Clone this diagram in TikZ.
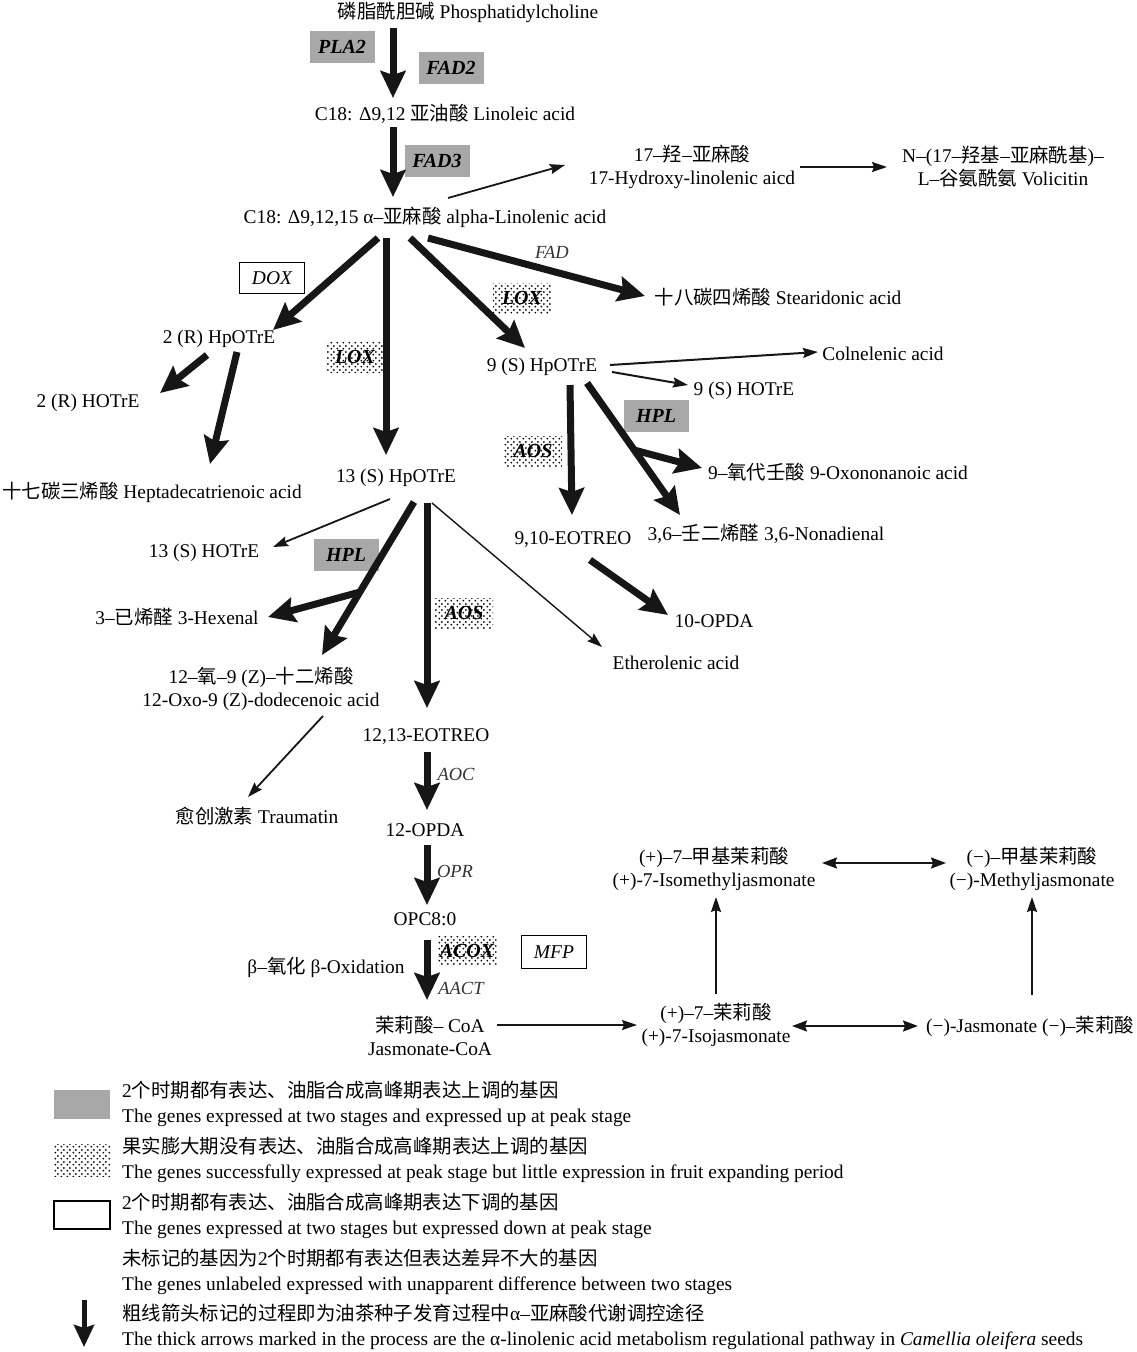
\documentclass[tikz,border=0pt]{standalone}
\usepackage{fontspec}
\setmainfont{Liberation Serif}
\newfontfamily\cjk{Noto Sans CJK SC}
\usetikzlibrary{arrows.meta,patterns.meta}
\newcommand\zh[1]{{\cjk #1}}
\definecolor{boxgray}{RGB}{168,168,168}
\definecolor{arrblack}{RGB}{22,22,22}
\tikzdeclarepattern{
  name=sdots,
  type=uncolored,
  bounding box={(0pt,0pt) and (6pt,6pt)},
  tile size={(6pt,6pt)},
  code={
    \fill (1.5pt,1.5pt) circle (1.1pt);
    \fill (4.5pt,4.5pt) circle (1.1pt);
  }
}
\begin{document}
\begin{tikzpicture}[x=1pt,y=-1pt,
  every node/.style={font=\fontsize{19.4}{23}\selectfont, inner sep=1pt},
  txt/.style={align=center},
  lbl/.style={font=\fontsize{18.5}{22}\selectfont\itshape, text=black!80},
  genegray/.style={fill=boxgray, minimum width=65pt, minimum height=32pt, font=\fontsize{20}{22}\selectfont\bfseries\itshape},
  genedot/.style={pattern=sdots, pattern color=black, minimum width=58pt, minimum height=30pt, font=\fontsize{20}{22}\selectfont\bfseries\itshape},
  genewhite/.style={draw, line width=1.2pt, minimum width=65pt, minimum height=31pt, font=\fontsize{19.5}{22}\selectfont\itshape},
  bigarr/.style={draw=arrblack, line width=7pt, -{Stealth[length=27pt,width=25pt,inset=4pt]}},
  smallarr/.style={draw=arrblack, line width=1.8pt, -{Stealth[length=15pt,width=10pt,inset=2pt]}},
  medarr/.style={draw=arrblack, line width=2pt, -{Stealth[length=15pt,width=10pt,inset=2pt]}},
  thinarr/.style={draw=arrblack, line width=1.4pt, -{Stealth[length=15pt,width=10pt,inset=2pt]}},
  dblarr/.style={draw=arrblack, line width=2pt, {Stealth[length=15pt,width=11pt,inset=2pt]}-{Stealth[length=15pt,width=11pt,inset=2pt]}}
]
\useasboundingbox (0,0) rectangle (1137,1352);

% ---- compound nodes ----
\node (pc) at (468,12) {\zh{磷脂酰胆碱} Phosphatidylcholine};
\node (la) at (445,114) {C18: Δ9,12 \zh{亚油酸} Linoleic acid};
\node (ala) at (425,217) {C18: Δ9,12,15 α–\zh{亚麻酸} alpha-Linolenic acid};
\node[txt] (hla) at (692,167) {17–\zh{羟}–\zh{亚麻酸}\\17-Hydroxy-linolenic aicd};
\node[txt] (vol) at (1003,167) {N–(17–\zh{羟基}–\zh{亚麻酰基})–\\L–\zh{谷氨酰氨} Volicitin};
\node (sa) at (778,297) {\zh{十八碳四烯酸} Stearidonic acid};
\node (hpR) at (219,339) {2 (R) HpOTrE};
\node (hotR) at (88,403) {2 (R) HOTrE};
\node (hep) at (152,492) {\zh{十七碳三烯酸} Heptadecatrienoic acid};
\node (hp9) at (542,367) {9 (S) HpOTrE};
\node (coln) at (883,354) {Colnelenic acid};
\node (hot9) at (744,391) {9 (S) HOTrE};
\node (oxo9) at (838,472) {9–\zh{氧代壬酸} 9-Oxononanoic acid};
\node (non) at (766,534) {3,6–\zh{壬二烯醛} 3,6-Nonadienal};
\node (eo910) at (573,540) {9,10-EOTREO};
\node (opda10) at (714,621) {10-OPDA};
\node (hp13) at (396,478) {13 (S) HpOTrE};
\node (hot13) at (204,553) {13 (S) HOTrE};
\node (hex) at (177,617) {3–\zh{已烯醛} 3-Hexenal};
\node[txt] (dodec) at (261,689) {12–\zh{氧}–9 (Z)–\zh{十二烯酸}\\12-Oxo-9 (Z)-dodecenoic acid};
\node (eth) at (676,663) {Etherolenic acid};
\node (eo1213) at (426,737) {12,13-EOTREO};
\node (trau) at (257,816) {\zh{愈创激素} Traumatin};
\node (opda12) at (425,830) {12-OPDA};
\node (opc) at (425,919) {OPC8:0};
\node[txt] (jcoa) at (430,1036) {\zh{茉莉酸}– CoA\\Jasmonate-CoA};
\node[txt] (iso) at (716,1025) {(+)–7–\zh{茉莉酸}\\(+)-7-Isojasmonate};
\node (jas) at (1030,1026) {(−)-Jasmonate (−)–\zh{茉莉酸}};
\node[txt] (isomj) at (714,869) {(+)–7–\zh{甲基茉莉酸}\\(+)-7-Isomethyljasmonate};
\node[txt] (mj) at (1032,869) {(−)–\zh{甲基茉莉酸}\\(−)-Methyljasmonate};

% ---- enzyme labels ----
\node[lbl] (fad) at (552,252) {FAD};
\node[lbl] (aoc) at (456,774) {AOC};
\node[lbl] (opr) at (455,871) {OPR};
\node[lbl] (aact) at (461,988) {AACT};
\node (boxi) at (326,967) {β–\zh{氧化} β-Oxidation};

\node[genegray] (pla2) at (342,47) {PLA2};
\node[genegray] (fad2) at (451,68) {FAD2};
\node[genegray] (fad3) at (437,161) {FAD3};
\node[genewhite] (dox) at (272,278) {DOX};
\node[genedot] (lox1) at (522,298) {LOX};
\node[genedot] (lox2) at (355,357) {LOX};
\node[genegray] (hpl1) at (656,416) {HPL};
\node[genedot] (aos1) at (533,451) {AOS};
\node[genegray] (hpl2) at (346,555) {HPL};
\node[genedot] (aos2) at (464,613) {AOS};
\node[genedot, minimum width=59pt, minimum height=29pt] (acox) at (467,951) {ACOX};
\node[genewhite, minimum height=33pt] (mfp) at (554,952) {MFP};

% ---- connectors ----
\draw[bigarr] ([shift={(-75,16)}]pc.center) -- ([shift={(-52,-16)}]la.center);
\draw[bigarr] ([shift={(-52,13)}]la.center) -- ([shift={(-32,-20)}]ala.center);
\draw[smallarr] ([shift={(23,-19)}]ala.center) -- ([shift={(-127,-2)}]hla.center);
\draw[smallarr] ([shift={(108,0)}]hla.center) -- ([shift={(-116,0)}]vol.center);
\draw[bigarr] ([shift={(-47,21)}]ala.center) -- ([shift={(54,-9)}]hpR.center);
\draw[bigarr] ([shift={(-39,21)}]ala.center) -- ([shift={(-10,-23)}]hp13.center);
\draw[bigarr] ([shift={(-15,21)}]ala.center) -- ([shift={(-17,-19)}]hp9.center);
\draw[bigarr] ([shift={(3,21)}]ala.center) -- ([shift={(-133,-1)}]sa.center);
\draw[bigarr] ([shift={(-12,16)}]hpR.center) -- ([shift={(72,-10)}]hotR.center);
\draw[bigarr] ([shift={(18,13)}]hpR.center) -- ([shift={(58,-28)}]hep.center);
\draw[medarr] ([shift={(68,-2)}]hp9.center) -- ([shift={(-65,-2)}]coln.center);
\draw[medarr] ([shift={(70,5)}]hp9.center) -- ([shift={(-56,-6)}]hot9.center);
\coordinate (b9) at (634,450);
\draw[bigarr] ([shift={(45,16)}]hp9.center) -- ([shift={(-86,-19)}]non.center);
\draw[bigarr] (b9) -- ([shift={(-136,-4)}]oxo9.center);
\draw[bigarr] ([shift={(28,18)}]hp9.center) -- ([shift={(-1,-25)}]eo910.center);
\draw[bigarr] ([shift={(17,20)}]eo910.center) -- ([shift={(-46,-6)}]opda10.center);
\draw[smallarr] ([shift={(-6,21)}]hp13.center) -- ([shift={(69,-6)}]hot13.center);
\draw[bigarr] ([shift={(18,24)}]hp13.center) -- ([shift={(61,-34)}]dodec.center);
\coordinate (b13) at (360,592);
\draw[bigarr] (b13) -- ([shift={(91,0)}]hex.center);
\draw[bigarr] ([shift={(31,25)}]hp13.center) -- ([shift={(1,-29)}]eo1213.center);
\draw[thinarr] ([shift={(36,25)}]hp13.center) -- ([shift={(-74,-16)}]eth.center);
\draw[smallarr] ([shift={(62,27)}]dodec.center) -- ([shift={(-9,-19)}]trau.center);
\draw[bigarr] ([shift={(1,15)}]eo1213.center) -- ([shift={(2,-20)}]opda12.center);
\draw[bigarr] ([shift={(2,15)}]opda12.center) -- ([shift={(2,-14)}]opc.center);
\draw[bigarr] ([shift={(2,21)}]opc.center) -- ([shift={(-3,-36)}]jcoa.center);
\draw[smallarr] ([shift={(67,-11)}]jcoa.center) -- ([shift={(-79,0)}]iso.center);
\draw[dblarr] ([shift={(76,1)}]iso.center) -- ([shift={(-112,0)}]jas.center);
\draw[smallarr] ([shift={(0,-31)}]iso.center) -- ([shift={(2,28)}]isomj.center);
\draw[dblarr] ([shift={(108,-6)}]isomj.center) -- ([shift={(-86,-6)}]mj.center);
\draw[smallarr] ([shift={(2,-31)}]jas.center) -- ([shift={(0,28)}]mj.center);

% ---- legend ----
\node[genegray, minimum width=56pt, minimum height=29pt] (lg1) at (82,1104) {};
\node[genedot, minimum width=57pt, minimum height=32pt] (lg2) at (82,1160) {};
\node[genewhite, minimum width=56pt, minimum height=28pt] (lg3) at (82,1215) {};
\coordinate (lgA) at (84,1300);
\coordinate (lgB) at (84,1347);
\draw[draw=arrblack, line width=5pt, -{Stealth[length=22pt,width=20pt,inset=3pt]}] (lgA) -- (lgB);

\node[anchor=west] (l1a) at (121,1090) {2\zh{个时期都有表达、油脂合成高峰期表达上调的基因}};
\node[anchor=west] (l1b) at (121,1118) {The genes expressed at two stages and expressed up at peak stage};
\node[anchor=west] (l2a) at (121,1146) {\zh{果实膨大期没有表达、油脂合成高峰期表达上调的基因}};
\node[anchor=west] (l2b) at (121,1174) {The genes successfully expressed at peak stage but little expression in fruit expanding period};
\node[anchor=west] (l3a) at (121,1202) {2\zh{个时期都有表达、油脂合成高峰期表达下调的基因}};
\node[anchor=west] (l3b) at (121,1230) {The genes expressed at two stages but expressed down at peak stage};
\node[anchor=west] (l4a) at (121,1258) {\zh{未标记的基因为}2\zh{个时期都有表达但表达差异不大的基因}};
\node[anchor=west] (l4b) at (121,1286) {The genes unlabeled expressed with unapparent difference between two stages};
\node[anchor=west] (l5a) at (121,1313) {\zh{粗线箭头标记的过程即为油茶种子发育过程中}α–\zh{亚麻酸代谢调控途径}};
\node[anchor=west] (l5b) at (121,1341) {The thick arrows marked in the process are the α-linolenic acid metabolism regulational pathway in \textit{Camellia oleifera} seeds};
\end{tikzpicture}
\end{document}
